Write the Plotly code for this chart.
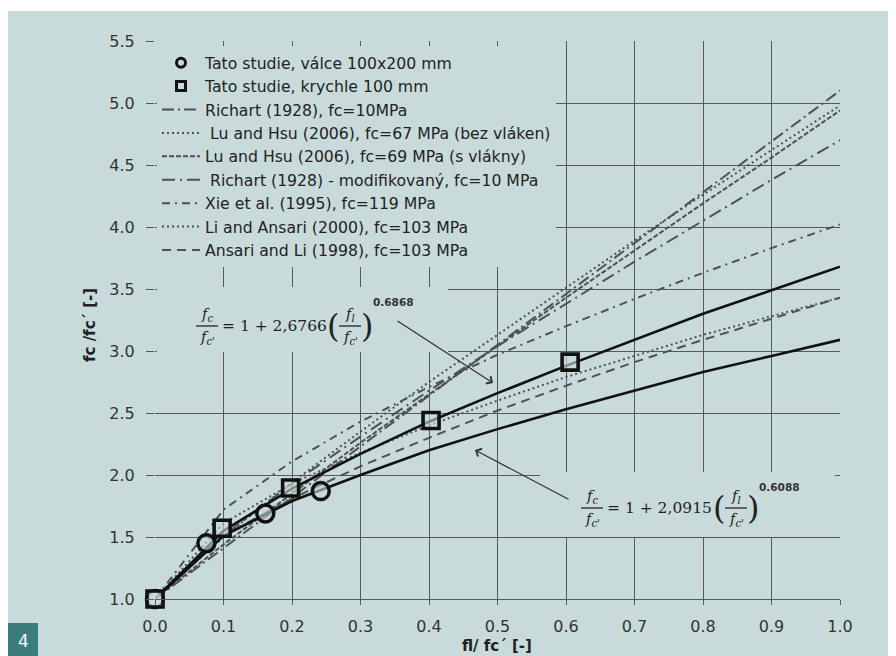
import plotly.graph_objects as go

# ---------------- data ----------------
x_model = [0.0, 0.1, 0.2, 0.3, 0.4, 0.5, 0.6, 0.7, 0.8, 0.9, 1.0]
fit_upper = [1.00, 1.55, 1.89, 2.17, 2.43, 2.66, 2.88, 3.09, 3.30, 3.49, 3.68]
fit_lower = [1.00, 1.51, 1.79, 2.00, 2.20, 2.37, 2.53, 2.68, 2.83, 2.96, 3.09]
richart = [1.00, 1.41, 1.82, 2.23, 2.64, 3.05, 3.46, 3.87, 4.28, 4.69, 5.10]
lu_hsu_67 = [1.00, 1.50, 1.94, 2.35, 2.75, 3.13, 3.51, 3.89, 4.26, 4.62, 4.98]
lu_hsu_69 = [1.00, 1.44, 1.85, 2.26, 2.65, 3.04, 3.43, 3.81, 4.19, 4.56, 4.94]
richart_mod = [1.00, 1.51, 1.93, 2.31, 2.68, 3.04, 3.38, 3.72, 4.05, 4.38, 4.70]
xie = [1.00, 1.72, 2.11, 2.43, 2.71, 2.97, 3.20, 3.42, 3.63, 3.83, 4.02]
li_ansari = [1.00, 1.61, 1.93, 2.18, 2.40, 2.60, 2.79, 2.96, 3.13, 3.28, 3.43]
ansari_li = [1.00, 1.51, 1.81, 2.07, 2.30, 2.52, 2.72, 2.91, 3.09, 3.26, 3.43]

cyl_x = [0.0, 0.075, 0.161, 0.242]
cyl_y = [1.00, 1.45, 1.69, 1.87]
cube_x = [0.0, 0.098, 0.198, 0.403, 0.606]
cube_y = [1.00, 1.57, 1.895, 2.44, 2.91]

names = [
    "Tato studie, válce 100x200 mm",
    "Tato studie, krychle 100 mm",
    "Richart (1928), fc=10MPa",
    " Lu and Hsu (2006), fc=67 MPa (bez vláken)",
    "Lu and Hsu (2006), fc=69 MPa (s vlákny)",
    " Richart (1928) - modifikovaný, fc=10 MPa",
    "Xie et al. (1995), fc=119 MPa",
    "Li and Ansari (2000), fc=103 MPa",
    "Ansari and Li (1998), fc=103 MPa",
]
x_ticks = [0.0, 0.1, 0.2, 0.3, 0.4, 0.5, 0.6, 0.7, 0.8, 0.9, 1.0]
y_ticks = [1.0, 1.5, 2.0, 2.5, 3.0, 3.5, 4.0, 4.5, 5.0, 5.5]

# ---------------- style ----------------
BG = "#c8dbda"
GRID = "#555959"
MODEL = "#4f5252"
FONT = "DejaVu Sans"
EQF = "DejaVu Serif"
OFF = 8                      # page body margin
PW, PH = 896, 656            # page size
W, H = PW - OFF, PH - OFF    # figure size
L, R, T, B = 155, 840, 41, 599   # plot area in page pixels


def px(v):
    return (v - L) / (R - L)


def py(v):
    return (B - v) / (B - T)


fig = go.Figure()

# legend-only marker entries
fig.add_trace(go.Scatter(x=[None], y=[None], mode="markers", name=names[0],
                         marker=dict(symbol="circle", size=9, color=BG,
                                     line=dict(color="#111", width=3))))
fig.add_trace(go.Scatter(x=[None], y=[None], mode="markers", name=names[1],
                         marker=dict(symbol="square", size=9, color=BG,
                                     line=dict(color="#111", width=3))))

models = [
    (richart, names[2], "12px,4px,2px,4px"),
    (lu_hsu_67, names[3], "2px,3px"),
    (lu_hsu_69, names[4], "5px,2px"),
    (richart_mod, names[5], "13px,5px,2px,5px"),
    (xie, names[6], "8px,5px,2px,5px"),
    (li_ansari, names[7], "2px,3px"),
    (ansari_li, names[8], "9px,6px"),
]
for ys, nm, dash in models:
    fig.add_trace(go.Scatter(x=x_model, y=ys, mode="lines", name=nm,
                             line=dict(color=MODEL, width=2, dash=dash)))

for ys in (fit_upper, fit_lower):
    fig.add_trace(go.Scatter(x=x_model, y=ys, mode="lines", showlegend=False,
                             line=dict(color="#111", width=2.6)))

fig.add_trace(go.Scatter(x=cyl_x, y=cyl_y, mode="markers", showlegend=False,
                         cliponaxis=False,
                         marker=dict(symbol="circle", size=17, color="rgba(200,219,218,0.6)",
                                     line=dict(color="#111", width=3.5))))
fig.add_trace(go.Scatter(x=cube_x, y=cube_y, mode="markers", showlegend=False,
                         cliponaxis=False,
                         marker=dict(symbol="square", size=16, color="rgba(200,219,218,0.6)",
                                     line=dict(color="#111", width=3.6))))

shapes = [
    # thin white strip at the very top
    dict(type="rect", xref="paper", yref="paper", x0=px(0), x1=px(PW), y0=py(11), y1=py(OFF),
         fillcolor="white", line=dict(width=0), layer="below"),
    # equation boxes
    dict(type="rect", xref="paper", yref="paper", x0=px(157), x1=px(448), y0=py(352), y1=py(287),
         fillcolor=BG, line=dict(width=0), layer="above"),
    dict(type="rect", xref="paper", yref="paper", x0=px(540), x1=px(835), y0=py(537), y1=py(472),
         fillcolor=BG, line=dict(width=0), layer="above"),
    # figure number box
    dict(type="rect", xref="paper", yref="paper", x0=px(OFF), x1=px(38), y0=py(PH), y1=py(623),
         fillcolor="#3b7c7d", line=dict(width=0), layer="above"),
]

annotations = []


def txt(x, y, s, size=15.5, xanchor="center", font=EQF, color="#222", **kw):
    annotations.append(dict(x=px(x), y=py(y), xref="paper", yref="paper", text=s,
                            showarrow=False, xanchor=xanchor, yanchor="middle",
                            font=dict(family=font, size=size, color=color), **kw))


def frac(xc, ybar, top, bot, half=11):
    txt(xc, ybar - 11, top, size=14.5)
    txt(xc, ybar + 11.5, bot, size=14.5)
    shapes.append(dict(type="line", xref="paper", yref="paper", x0=px(xc - half), x1=px(xc + half),
                       y0=py(ybar), y1=py(ybar), line=dict(color="#222", width=1.3), layer="above"))


FC = "<i>f<sub>c</sub></i>"
FCP = "<i>f<sub>c'</sub></i>"
FL = "<i>f<sub>l</sub></i>"

# upper equation
frac(207, 326, FC, FCP)
txt(220, 326, "= 1 + 2,6766", xanchor="left")
txt(333, 326, "(", size=32)
frac(350, 326, FL, FCP)
txt(367, 326, ")", size=32)
txt(371, 302, "<b>0.6868</b>", size=10.5, xanchor="left", font=FONT, color="#333")

# lower equation
frac(592, 508, FC, FCP)
txt(605, 508, "= 1 + 2,0915", xanchor="left")
txt(719, 508, "(", size=32)
frac(736, 508, FL, FCP)
txt(753, 508, ")", size=32)
txt(757, 487, "<b>0.6088</b>", size=10.5, xanchor="left", font=FONT, color="#333")

# arrows
for tip, tail in (((493, 383), (396, 320)), ((475, 450), (570, 500))):
    annotations.append(dict(x=px(tip[0]), y=py(tip[1]), xref="paper", yref="paper", text="",
                            showarrow=True, ax=tail[0] - tip[0], ay=tail[1] - tip[1],
                            arrowhead=4, arrowsize=1.3, arrowwidth=1.3, arrowcolor="#333",
                            standoff=0))

# axis titles
txt(90, 325, "<b>fc /fc´ [-]</b>", size=15, font=FONT, color="#222", textangle=-90)
txt(497, 646, "<b>fl/ fc´ [-]</b>", size=15, font=FONT, color="#222")
# figure number
txt(23, 641, "4", size=17, font=FONT, color="white")

fig.update_layout(
    width=W, height=H, autosize=False,
    margin=dict(l=L - OFF, r=PW - R, t=T - OFF, b=PH - B, pad=0),
    paper_bgcolor=BG, plot_bgcolor=BG,
    shapes=shapes, annotations=annotations,
    legend=dict(x=px(157), y=py(46), xanchor="left", yanchor="top",
                bgcolor=BG, borderwidth=0, itemwidth=38, tracegroupgap=0,
                font=dict(family=FONT, size=15.7, color="#222")),
    font=dict(family=FONT),
)
fig.update_xaxes(range=[0, 1], tickvals=x_ticks, tickformat=".1f",
                 showgrid=True, gridcolor=GRID, gridwidth=1, zeroline=False,
                 showline=True, linecolor=GRID, linewidth=1, mirror=False,
                 ticks="outside", ticklen=5, tickcolor=GRID, ticklabelstandoff=8,
                 tickfont=dict(family=FONT, size=16, color="#333"))
fig.update_yaxes(range=[1, 5.5], tickvals=y_ticks, tickformat=".1f",
                 showgrid=True, gridcolor=GRID, gridwidth=1, zeroline=False,
                 showline=False, ticks="outside", ticklen=8, tickcolor=GRID,
                 ticklabelstandoff=8,
                 tickfont=dict(family=FONT, size=16, color="#333"))

fig.write_html("out.html")
